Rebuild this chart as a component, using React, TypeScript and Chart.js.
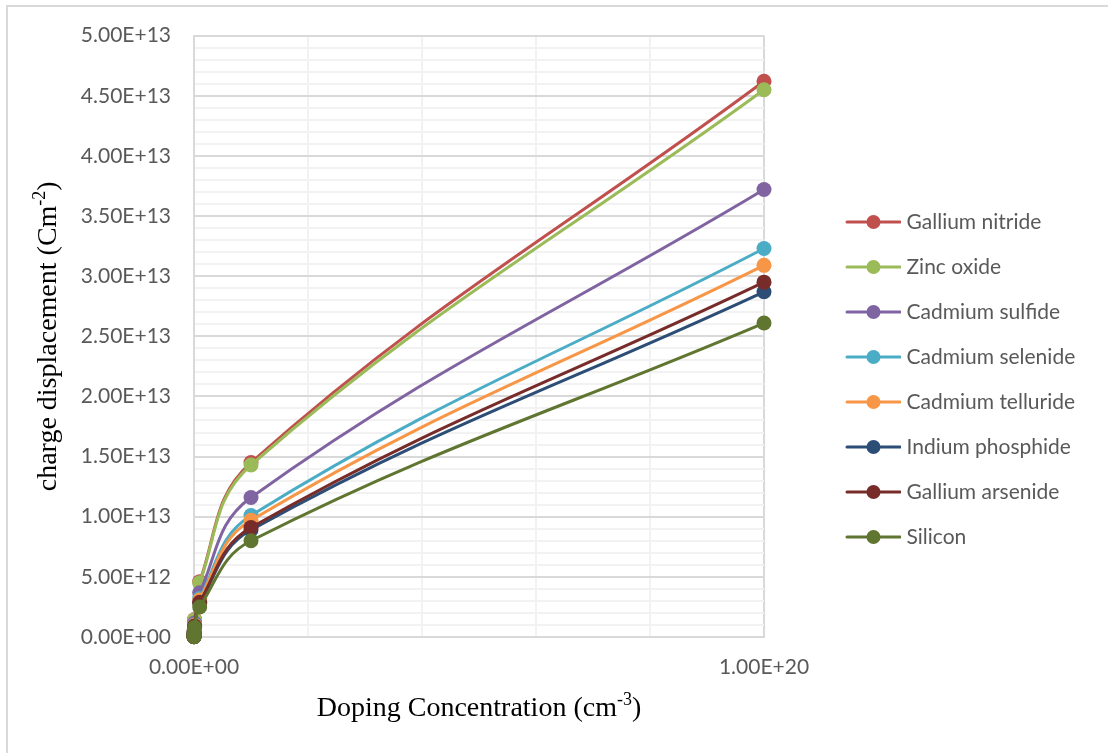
import { useEffect, useRef } from 'react';
import { Chart, registerables } from 'chart.js';

Chart.register(...registerables);

// ---------- data ----------
const dopingConcentration = [1e14, 1e15, 1e16, 1e17, 1e18, 1e19, 1e20];

const galliumNitride = [4.6e10, 1.45e11, 4.6e11, 1.45e12, 4.6e12, 1.45e13, 4.62e13];
const zincOxide = [4.5e10, 1.43e11, 4.5e11, 1.43e12, 4.5e12, 1.43e13, 4.55e13];
const cadmiumSulfide = [3.67e10, 1.16e11, 3.67e11, 1.16e12, 3.67e12, 1.16e13, 3.72e13];
const cadmiumSelenide = [3.2e10, 1.01e11, 3.2e11, 1.01e12, 3.2e12, 1.01e13, 3.23e13];
const cadmiumTelluride = [3.07e10, 9.7e10, 3.07e11, 9.7e11, 3.07e12, 9.7e12, 3.09e13];
const indiumPhosphide = [2.82e10, 8.9e10, 2.82e11, 8.9e11, 2.82e12, 8.9e12, 2.87e13];
const galliumArsenide = [2.88e10, 9.1e10, 2.88e11, 9.1e11, 2.88e12, 9.1e12, 2.95e13];
const silicon = [2.5e10, 8.0e10, 2.5e11, 8.0e11, 2.5e12, 8.0e12, 2.61e13];

const seriesNames = [
  'Gallium nitride',
  'Zinc oxide',
  'Cadmium sulfide',
  'Cadmium selenide',
  'Cadmium telluride',
  'Indium phosphide',
  'Gallium arsenide',
  'Silicon',
];
const seriesValues = [
  galliumNitride,
  zincOxide,
  cadmiumSulfide,
  cadmiumSelenide,
  cadmiumTelluride,
  indiumPhosphide,
  galliumArsenide,
  silicon,
];
const seriesColors = ['#C0504D', '#9BBB59', '#8064A2', '#4BACC6', '#F79646', '#2C4D75', '#772C2A', '#5F7530'];

const xAxisMin = 0;
const xAxisMax = 1e20;
const xGridStep = 2e19;
const xLabelledTicks = [0, 1e20];
const yAxisMin = 0;
const yAxisMax = 5e13;
const yGridStep = 1e12;
const yLabelStep = 5e12;

const xTitle = ['Doping Concentration (cm', '-3', ')'];
const yTitle = ['charge displacement (Cm', '-2', ')'];

// ---------- layout constants ----------
const W = 1108;
const H = 753;
const PLOT_LEFT = 194;
const PLOT_RIGHT = 764;
const PLOT_TOP = 35;
const PLOT_BOTTOM = 637;
const PAD_BOTTOM = 29;
const LEGEND_FONT = 21;
const LEGEND_PAD = 24;
const LEGEND_BOX_W = 108;
const TICK_FONT = { family: 'Lato', size: 21 };

function sci(v: number): string {
  const [m, e] = v.toExponential(2).split('e');
  const n = parseInt(e, 10);
  return `${m}E${n < 0 ? '-' : '+'}${String(Math.abs(n)).padStart(2, '0')}`;
}

function makeMarker(color: string): HTMLCanvasElement {
  const half = LEGEND_BOX_W / 2 + 5;
  const c = document.createElement('canvas');
  c.width = Math.round(half * 2);
  c.height = 20;
  const g = c.getContext('2d')!;
  const x1 = c.width - 54;
  const x2 = c.width - 1;
  g.strokeStyle = color;
  g.lineWidth = 3;
  g.lineCap = 'round';
  g.beginPath();
  g.moveTo(x1, 10);
  g.lineTo(x2, 10);
  g.stroke();
  g.fillStyle = color;
  g.beginPath();
  g.arc((x1 + x2) / 2, 10, 7, 0, Math.PI * 2);
  g.fill();
  return c;
}

function drawSupText(ctx: CanvasRenderingContext2D, parts: string[], cx: number, cy: number) {
  const base = '28px "Liberation Serif"';
  const sup = '18px "Liberation Serif"';
  ctx.font = base;
  const w1 = ctx.measureText(parts[0]).width;
  const w3 = ctx.measureText(parts[2]).width;
  ctx.font = sup;
  const w2 = ctx.measureText(parts[1]).width;
  let x = cx - (w1 + w2 + w3) / 2;
  ctx.textBaseline = 'alphabetic';
  ctx.textAlign = 'left';
  const baseline = cy + 9;
  ctx.font = base;
  ctx.fillText(parts[0], x, baseline);
  x += w1;
  ctx.font = sup;
  ctx.fillText(parts[1], x, baseline - 11);
  x += w2;
  ctx.font = base;
  ctx.fillText(parts[2], x, baseline);
}

const frameAndTitles = {
  id: 'frameAndTitles',
  beforeDraw(chart: any) {
    const { ctx } = chart;
    ctx.save();
    ctx.fillStyle = '#ffffff';
    ctx.fillRect(0, 0, chart.width, chart.height);
    ctx.strokeStyle = '#d9d9d9';
    ctx.lineWidth = 2;
    ctx.beginPath();
    ctx.moveTo(7, chart.height + 5);
    ctx.lineTo(7, 6);
    ctx.lineTo(chart.width + 5, 6);
    ctx.stroke();
    ctx.restore();
  },
  afterDraw(chart: any) {
    const { ctx, chartArea } = chart;
    ctx.save();
    ctx.fillStyle = '#000000';
    drawSupText(ctx, xTitle, (chartArea.left + chartArea.right) / 2, 707);
    ctx.translate(47, (chartArea.top + chartArea.bottom) / 2);
    ctx.rotate(-Math.PI / 2);
    drawSupText(ctx, yTitle, 0, 0);
    ctx.restore();
  },
};

function buildChart(canvas: HTMLCanvasElement): Chart {
  const markers = seriesColors.map(makeMarker);

  const mc = document.createElement('canvas').getContext('2d')!;
  mc.font = `${LEGEND_FONT}px Lato`;
  const maxText = Math.max(...seriesNames.map((n) => mc.measureText(n).width));
  const legendWidth = LEGEND_PAD + LEGEND_BOX_W + LEGEND_FONT / 2 + maxText + 10;
  const padRight = Math.max(0, W - PLOT_RIGHT - legendWidth);

  const datasets = seriesNames.map((name, i) => ({
    label: name,
    data: dopingConcentration.map((x, j) => ({ x, y: seriesValues[i][j] })),
    borderColor: seriesColors[i],
    backgroundColor: seriesColors[i],
    pointBackgroundColor: seriesColors[i],
    pointBorderColor: seriesColors[i],
    borderWidth: 3,
    pointRadius: 7.5,
    pointBorderWidth: 0,
    tension: 0.4,
    clip: false as any,
    order: seriesNames.length - 1 - i,
  }));

  const isLabelledX = (n: number) => xLabelledTicks.some((t) => Math.abs(t - n) < xGridStep / 10);
  const isLabelledY = (n: number) => Math.round(n / yGridStep) % Math.round(yLabelStep / yGridStep) === 0;

  return new Chart(canvas, {
    type: 'line',
    data: { datasets },
    plugins: [frameAndTitles],
    options: {
      animation: false,
      responsive: false,
      devicePixelRatio: 1,
      layout: {
        padding: { left: 0, top: PLOT_TOP, right: padRight, bottom: PAD_BOTTOM },
      },
      plugins: {
        tooltip: { enabled: false },
        legend: {
          position: 'right',
          align: 'center',
          maxWidth: W - PLOT_RIGHT,
          labels: {
            usePointStyle: true,
            pointStyleWidth: LEGEND_BOX_W,
            boxHeight: LEGEND_FONT,
            padding: LEGEND_PAD,
            color: '#595959',
            font: { family: 'Lato', size: LEGEND_FONT },
            sort: (a: any, b: any) => a.datasetIndex - b.datasetIndex,
            generateLabels: (ch: any) => {
              const items = (Chart.defaults.plugins.legend.labels as any).generateLabels(ch);
              items.forEach((it: any) => {
                it.pointStyle = markers[it.datasetIndex];
              });
              return items;
            },
          },
        },
      },
      scales: {
        x: {
          type: 'linear',
          min: xAxisMin,
          max: xAxisMax,
          afterBuildTicks: (scale: any) => {
            const t = [];
            for (let v = xAxisMin; v <= xAxisMax + 1; v += xGridStep) t.push({ value: v });
            scale.ticks = t;
          },
          afterFit: (scale: any) => {
            scale.height = H - PLOT_BOTTOM - PAD_BOTTOM;
          },
          ticks: {
            autoSkip: false,
            maxRotation: 0,
            padding: 18,
            color: '#595959',
            font: TICK_FONT,
            callback: (v: any) => (isLabelledX(Number(v)) ? sci(Number(v)) : ''),
          },
          grid: {
            drawTicks: false,
            lineWidth: 2,
            color: (c: any) => (isLabelledX(c.tick ? c.tick.value : 0) ? '#d9d9d9' : '#f2f2f2'),
          },
          border: { display: true, color: '#d9d9d9', width: 2 },
        },
        y: {
          type: 'linear',
          min: yAxisMin,
          max: yAxisMax,
          afterBuildTicks: (scale: any) => {
            const t = [];
            for (let k = 0; k * yGridStep <= yAxisMax + 1; k++) t.push({ value: k * yGridStep });
            scale.ticks = t;
          },
          afterFit: (scale: any) => {
            scale.width = PLOT_LEFT;
          },
          ticks: {
            autoSkip: false,
            padding: 23,
            color: '#595959',
            font: TICK_FONT,
            callback: (v: any) => (isLabelledY(Number(v)) ? sci(Number(v)) : ''),
          },
          grid: {
            drawTicks: false,
            lineWidth: 2,
            color: (c: any) => (isLabelledY(c.tick ? c.tick.value : 0) ? '#d9d9d9' : '#f2f2f2'),
          },
          border: { display: true, color: '#d9d9d9', width: 2 },
        },
      },
    } as any,
  });
}

export default function App() {
  const ref = useRef<HTMLCanvasElement | null>(null);

  useEffect(() => {
    document.body.style.margin = '0';
    const canvas = ref.current;
    if (!canvas) return;
    let chart: Chart | null = null;
    let cancelled = false;
    const fonts: any = (document as any).fonts;
    const ready = fonts
      ? Promise.all([
          fonts.load('21px Lato'),
          fonts.load('28px "Liberation Serif"'),
          fonts.load('18px "Liberation Serif"'),
        ]).catch(() => null)
      : Promise.resolve(null);
    ready.then(() => {
      if (cancelled) return;
      chart = buildChart(canvas);
    });
    return () => {
      cancelled = true;
      if (chart) chart.destroy();
    };
  }, []);

  return (
    <div style={{ width: W, height: H, position: 'relative', overflow: 'hidden', background: '#fff' }}>
      <canvas ref={ref} width={W} height={H} style={{ display: 'block', width: W, height: H }} />
    </div>
  );
}
